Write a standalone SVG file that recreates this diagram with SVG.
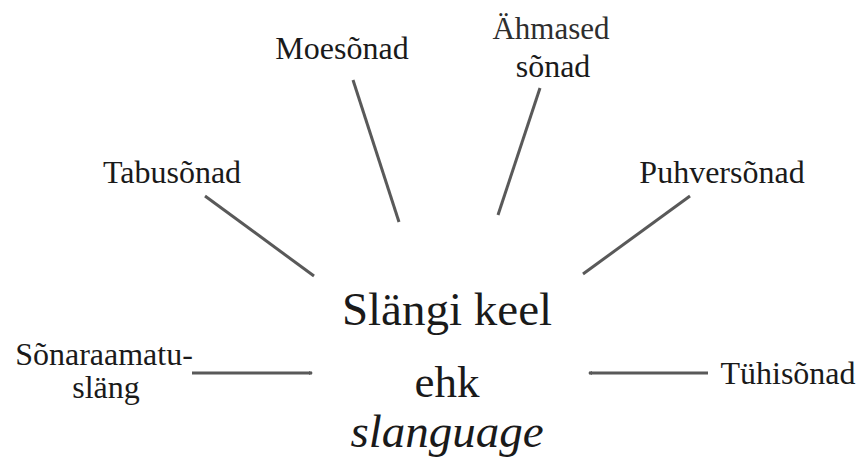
<svg xmlns="http://www.w3.org/2000/svg" width="860" height="459" viewBox="0 0 860 459">
  <style>
    .lbl { font-family: "Liberation Serif", "Times New Roman", serif; font-size: 32px; fill: #1a1a1a; text-anchor: middle; }
    .big { font-family: "Liberation Serif", "Times New Roman", serif; font-size: 47px; fill: #1a1a1a; text-anchor: middle; }
    .it { font-style: italic; }
    .light { fill: #2e2e2e; font-size: 31px; }
    .conn line { stroke: #595959; stroke-width: 3; stroke-linecap: butt; }
  </style>
  <defs>
    <marker id="tip" viewBox="0 0 4 4" refX="3" refY="2" markerWidth="4" markerHeight="4" markerUnits="userSpaceOnUse" orient="auto">
      <path d="M0,0 L4,2 L0,4 z" fill="#595959"/>
    </marker>
  </defs>

  <g id="connectors" class="conn">
    <line x1="353" y1="80" x2="399" y2="222"/>
    <line x1="540" y1="88" x2="498" y2="215"/>
    <line x1="205" y1="196" x2="314" y2="276"/>
    <line x1="690" y1="196" x2="583" y2="274"/>
    <line x1="192" y1="373" x2="312" y2="373" marker-end="url(#tip)"/>
    <line x1="708" y1="373" x2="589" y2="373" marker-end="url(#tip)"/>
  </g>

  <g id="center">
    <text class="big" x="447" y="325">Slängi keel</text>
    <text class="big" x="447" y="397" style="font-size:45px">ehk</text>
    <text class="big it" x="447" y="447">slanguage</text>
  </g>

  <g id="moesonad">
    <text class="lbl" x="342" y="59">Moesõnad</text>
  </g>

  <g id="ahmased">
    <text class="lbl light" x="551" y="39">Ähmased</text>
    <text class="lbl" x="553" y="77">sõnad</text>
  </g>

  <g id="tabusonad">
    <text class="lbl" x="172" y="183">Tabusõnad</text>
  </g>

  <g id="puhversonad">
    <text class="lbl" x="722" y="183">Puhversõnad</text>
  </g>

  <g id="sonaraamatuslang">
    <text class="lbl" x="104" y="365">Sõnaraamatu-</text>
    <text class="lbl" x="106" y="398">släng</text>
  </g>

  <g id="tuhisonad">
    <text class="lbl" x="788" y="384">Tühisõnad</text>
  </g>
</svg>
